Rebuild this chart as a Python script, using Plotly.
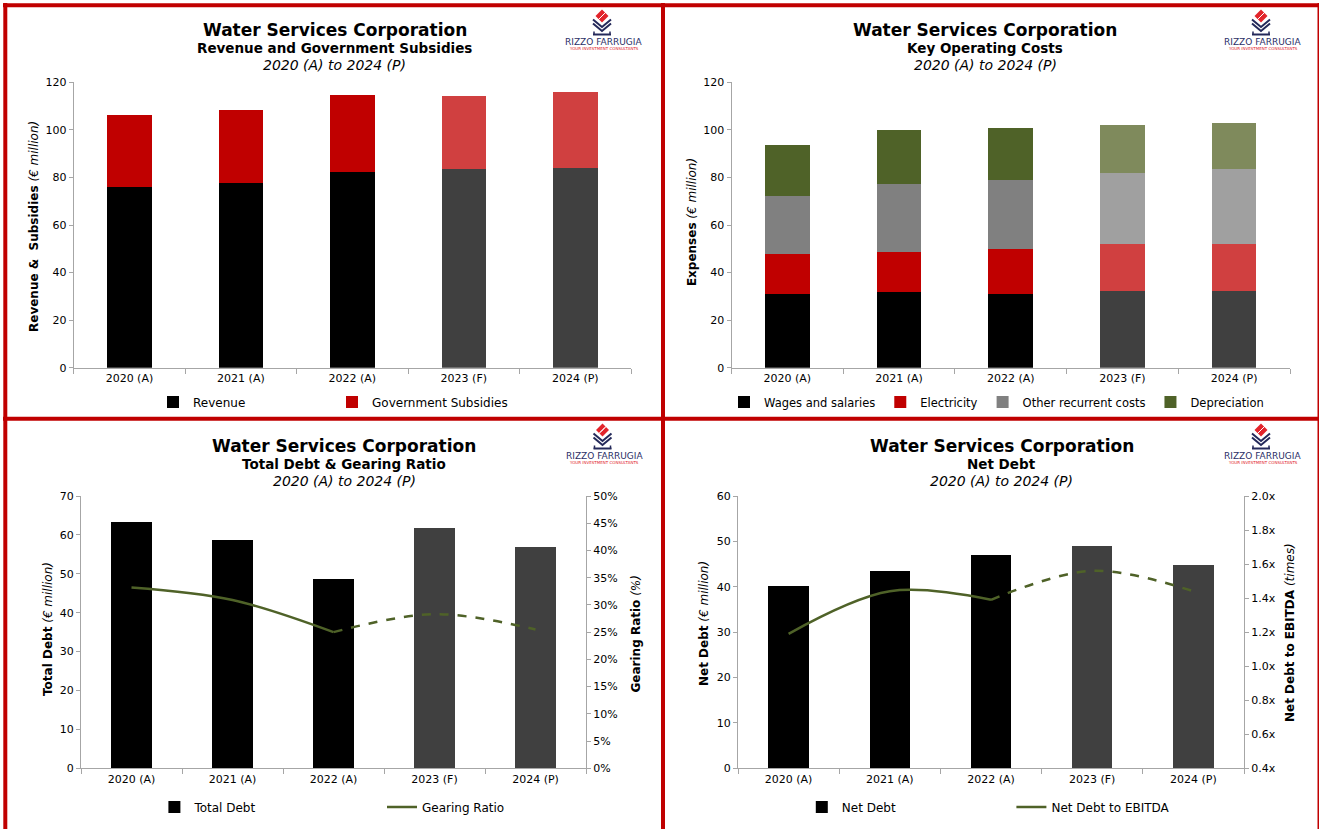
import plotly.graph_objects as go

# ---------------- data ----------------
categories = ["2020 (A)", "2021 (A)", "2022 (A)", "2023 (F)", "2024 (P)"]

revenue = [76.0, 77.8, 82.2, 83.6, 83.8]
subsidies = [30.1, 30.4, 32.5, 30.5, 32.1]

wages = [31.0, 32.0, 31.0, 32.2, 32.2]
electricity = [16.8, 16.8, 18.9, 19.7, 19.7]
other_costs = [24.3, 28.3, 29.0, 30.0, 31.8]
depreciation = [21.7, 22.9, 22.0, 20.2, 19.2]

total_debt = [63.4, 58.6, 48.6, 61.8, 56.9]
gearing = [0.332, 0.309, 0.250, 0.283, 0.255]

net_debt = [40.2, 43.5, 47.1, 49.0, 44.8]
nd_ebitda = [1.19, 1.44, 1.39, 1.56, 1.44]

n_actual = 3  # first three years are actuals, the rest forecast / projection

# ---------------- styling helpers ----------------
W, H = 1319, 829
FONT = "DejaVu Sans"
AXC = "#A6A6A6"
RED_BORDER = "#C00000"
OLIVE = "#4F6228"
NAVY = "#24295A"


def fx(px):
    return px / W


def fy(py):
    return 1 - py / H


def two_tone(actual, forecast):
    return [actual if i < n_actual else forecast for i in range(len(categories))]


def xaxis(d0, d1, anchor):
    return dict(domain=[fx(d0), fx(d1)], anchor=anchor, type="category",
                range=[-0.5, len(categories) - 0.5], showline=True, linecolor=AXC,
                linewidth=1, ticks="outside", tickson="boundaries", ticklen=5,
                tickcolor=AXC, showgrid=False, zeroline=False,
                tickfont=dict(family=FONT, size=11, color="#000"))


def yaxis(top, bot, anchor, rng, dtick, side="left", overlaying=None, **kw):
    d = dict(domain=[fy(bot), fy(top)], anchor=anchor, range=rng, dtick=dtick,
             tick0=rng[0], showline=True, linecolor=AXC, linewidth=1,
             ticks="outside", ticklen=4, tickcolor=AXC, showgrid=False,
             zeroline=False, side=side,
             tickfont=dict(family=FONT, size=11, color="#000"))
    if overlaying:
        d["overlaying"] = overlaying
    d.update(kw)
    return d


def legend(xpx, ypx, ew=None, size=12):
    d = dict(orientation="h", x=fx(xpx), y=fy(ypx), xanchor="left",
             yanchor="middle", bgcolor="rgba(0,0,0,0)", borderwidth=0,
             font=dict(family=FONT, size=size, color="#000"),
             traceorder="normal", itemwidth=30)
    if ew:
        d["entrywidth"] = ew
        d["entrywidthmode"] = "pixels"
    return d


fig = go.Figure()

# ---------------- panel 1: revenue & subsidies ----------------
fig.add_bar(x=categories, y=revenue, name="Revenue", width=0.4,
            marker=dict(color=two_tone("#000000", "#404040"), line=dict(width=0)),
            xaxis="x", yaxis="y", legend="legend")
fig.add_bar(x=categories, y=subsidies, name="Government Subsidies", width=0.4,
            marker=dict(color=two_tone("#C00000", "#D04040"), line=dict(width=0)),
            xaxis="x", yaxis="y", legend="legend")

# ---------------- panel 2: key operating costs ----------------
for vals, name, ca, cf in [
    (wages, "Wages and salaries", "#000000", "#404040"),
    (electricity, "Electricity", "#C00000", "#D04040"),
    (other_costs, "Other recurrent costs", "#808080", "#A0A0A0"),
    (depreciation, "Depreciation", "#4F6228", "#7F8A5C"),
]:
    fig.add_bar(x=categories, y=vals, name=name, width=0.4,
                marker=dict(color=two_tone(ca, cf), line=dict(width=0)),
                xaxis="x2", yaxis="y2", legend="legend2")

# ---------------- panel 3: total debt & gearing ----------------
fig.add_bar(x=categories, y=total_debt, name="Total Debt", width=0.4,
            marker=dict(color=two_tone("#000000", "#404040"), line=dict(width=0)),
            xaxis="x3", yaxis="y3", legend="legend3")
fig.add_scatter(x=categories[:n_actual], y=gearing[:n_actual], name="Gearing Ratio",
                mode="lines", line=dict(color=OLIVE, width=2.5, shape="spline"),
                xaxis="x3", yaxis="y5", legend="legend3")
fig.add_scatter(x=categories[n_actual - 1:], y=gearing[n_actual - 1:], name="Gearing Ratio",
                mode="lines", showlegend=False,
                line=dict(color=OLIVE, width=2.5, shape="spline", dash="dash"),
                xaxis="x3", yaxis="y5", legend="legend3")

# ---------------- panel 4: net debt ----------------
fig.add_bar(x=categories, y=net_debt, name="Net Debt", width=0.4,
            marker=dict(color=two_tone("#000000", "#404040"), line=dict(width=0)),
            xaxis="x4", yaxis="y4", legend="legend4")
fig.add_scatter(x=categories[:n_actual], y=nd_ebitda[:n_actual], name="Net Debt to EBITDA",
                mode="lines", line=dict(color=OLIVE, width=2.5, shape="spline"),
                xaxis="x4", yaxis="y6", legend="legend4")
fig.add_scatter(x=categories[n_actual - 1:], y=nd_ebitda[n_actual - 1:], name="Net Debt to EBITDA",
                mode="lines", showlegend=False,
                line=dict(color=OLIVE, width=2.5, shape="spline", dash="dash"),
                xaxis="x4", yaxis="y6", legend="legend4")

# ---------------- annotations ----------------
ann = []


def text(xpx, ypx, s, size, color="#000", angle=0, xanchor="center"):
    ann.append(dict(x=fx(xpx), y=fy(ypx), xref="paper", yref="paper", text=s,
                    showarrow=False, textangle=angle, xanchor=xanchor,
                    yanchor="middle", font=dict(family=FONT, size=size, color=color)))


for cx, y0, sub in [(334.5, 30, "Revenue and Government Subsidies"),
                    (985, 30, "Key Operating Costs"),
                    (344, 445.7, "Total Debt &amp; Gearing Ratio"),
                    (1001.5, 445.7, "Net Debt")]:
    text(cx, y0, "<b>Water Services Corporation</b>", 17)
    text(cx, y0 + 18.5, f"<b>{sub}</b>", 13.5)
    text(cx, y0 + 35, "<i>2020 (A) to 2024 (P)</i>", 14)

# axis titles
text(34, 227, "<b>Revenue &amp;\u00a0 Subsidies</b> <i>(€ million)</i>", 12, angle=-90)
text(691.6, 222.5, "<b>Expenses</b> <i>(€ million)</i>", 12, angle=-90)
text(47.5, 629.5, "<b>Total Debt</b> <i>(€ million)</i>", 12, angle=-90)
text(635.5, 634, "<b>Gearing Ratio</b> <i>(%)</i>", 12, angle=-90)
text(704, 624, "<b>Net Debt</b> <i>(€ million)</i>", 12, angle=-90)
text(1290, 633, "<b>Net Debt to EBITDA</b> <i>(times)</i>", 12, angle=-90)

# ---------------- shapes: panel borders and logos ----------------
shapes = []


def seg(x0, y0, x1, y1, color, width):
    shapes.append(dict(type="line", xref="paper", yref="paper", x0=fx(x0), y0=fy(y0),
                       x1=fx(x1), y1=fy(y1), line=dict(color=color, width=width)))


seg(3, 5.3, 1319, 5.3, RED_BORDER, 4)
seg(5.3, 3, 5.3, 829, RED_BORDER, 4)
seg(663, 3, 663, 829, RED_BORDER, 4)
seg(1319.5, 3, 1319.5, 829, RED_BORDER, 4)
seg(3, 418.7, 1319, 418.7, RED_BORDER, 4)


def pt(x, y):
    return f"{fx(x):.6f},{fy(y):.6f}"


def logo(cx, dy):
    # red diamond with white stripes
    shapes.append(dict(type="path", xref="paper", yref="paper",
                       path=f"M{pt(cx, 9.5 + dy)} L{pt(cx + 6.5, 16 + dy)} L{pt(cx, 22.5 + dy)} L{pt(cx - 6.5, 16 + dy)} Z",
                       fillcolor="#E2242B", line=dict(width=0)))
    for k in (-2.4, 0, 2.4):
        seg(cx - 2.6 + k, 18.6 + dy - k, cx + 2.6 + k, 13.4 + dy - k, "#FFFFFF", 1)
    # stacked navy chevrons
    for top in (19.5, 23.5):
        shapes.append(dict(type="path", xref="paper", yref="paper",
                           path=f"M{pt(cx - 9, top + dy)} L{pt(cx, top + 7.5 + dy)} L{pt(cx + 9, top + dy)}",
                           line=dict(color=NAVY, width=2)))
    # base
    seg(cx - 9, 34.5 + dy, cx + 9, 34.5 + dy, NAVY, 2)
    seg(cx - 8, 31.5 + dy, cx - 8, 35 + dy, NAVY, 1.5)
    seg(cx + 8, 31.5 + dy, cx + 8, 35 + dy, NAVY, 1.5)
    text(cx + 1.5, 42 + dy, "RIZZO FARRUGIA", 9, color="#2B2F66")
    text(cx + 1.5, 48.5 + dy, "YOUR INVESTMENT CONSULTANTS", 4, color="#E2242B")


logo(602, 0)
logo(1261, 0)
logo(602.5, 414)
logo(1261, 414)

# ---------------- layout ----------------
fig.update_layout(
    width=W, height=H, autosize=False,
    margin=dict(l=0, r=0, t=0, b=0, pad=0, autoexpand=False),
    paper_bgcolor="#FFFFFF", plot_bgcolor="rgba(0,0,0,0)",
    barmode="stack", bargap=0.6,
    font=dict(family=FONT, size=11, color="#000"),
    xaxis=xaxis(73.7, 631, "y"),
    yaxis=yaxis(82.3, 367.7, "x", [0, 120], 20),
    xaxis2=xaxis(731.5, 1290, "y2"),
    yaxis2=yaxis(82.3, 367.7, "x2", [0, 120], 20),
    xaxis3=xaxis(81, 586, "y3"),
    yaxis3=yaxis(496, 768.3, "x3", [0, 70], 10),
    yaxis5=yaxis(496, 768.3, "x3", [0, 0.5], 0.05, side="right", overlaying="y3",
                 tickformat=".0%"),
    xaxis4=xaxis(738, 1244, "y4"),
    yaxis4=yaxis(496, 768.3, "x4", [0, 60], 10),
    yaxis6=yaxis(496, 768.3, "x4", [0.4, 2.0], 0.2, side="right", overlaying="y4",
                 tickformat=".1f", ticksuffix="x"),
    legend=legend(153, 402, ew=134),
    legend2=legend(724, 402, size=11.5),
    legend3=legend(154.4, 807, ew=182.6),
    legend4=legend(801.8, 807, ew=164.6),
    annotations=ann,
    shapes=shapes,
    showlegend=True,
)

fig.write_html("out.html")
